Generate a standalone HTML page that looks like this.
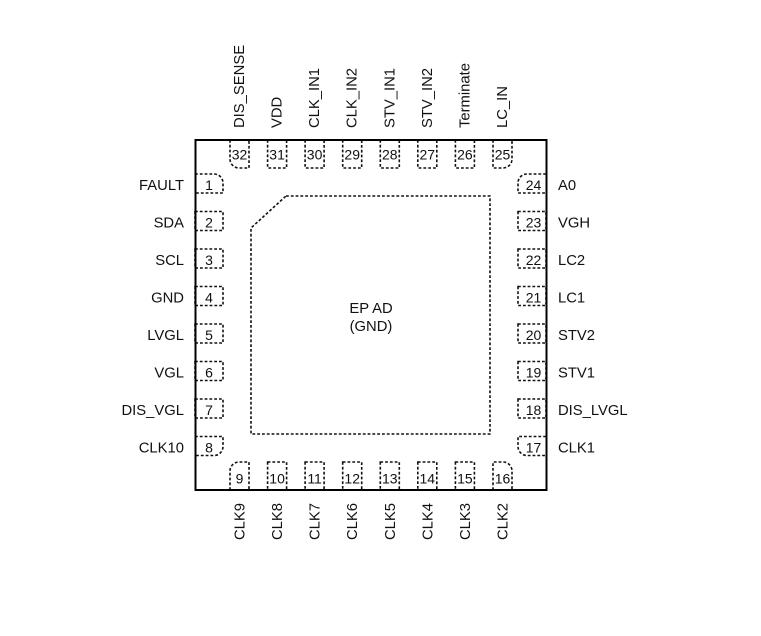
<!DOCTYPE html>
<html><head><meta charset="utf-8"><style>
html,body{margin:0;padding:0;background:#fff;}
svg{display:block;}
text{font-family:"Liberation Sans",Arial,sans-serif;fill:#111;}
.lbl{font-size:14.8px;}
.num{font-size:14px;}
.d{fill:none;stroke:#111;stroke-width:1.6;stroke-dasharray:2.8,2;}
</style></head><body>
<svg width="761" height="636" viewBox="0 0 761 636" xmlns="http://www.w3.org/2000/svg">
<!-- EPAD -->
<path class="d" d="M286,196 L490,196 L490,434 L251,434 L251,228 Z"/>
<text class="lbl" x="371" y="313" text-anchor="middle">EP AD</text>
<text class="lbl" x="371" y="331" text-anchor="middle">(GND)</text>

<!-- Top pins 32..25 -->
<path class="d" d="M230,140 L230,159 A9,9 0 0 0 239,168 L249,168 L249,140"/>
<rect class="d" x="267.6" y="140" width="19" height="28"/>
<rect class="d" x="305.1" y="140" width="19" height="28"/>
<rect class="d" x="342.7" y="140" width="19" height="28"/>
<rect class="d" x="380.3" y="140" width="19" height="28"/>
<rect class="d" x="417.8" y="140" width="19" height="28"/>
<rect class="d" x="455.4" y="140" width="19" height="28"/>
<path class="d" d="M493,140 L493,168 L503,168 A9,9 0 0 0 512,159 L512,140"/>
<g class="num" text-anchor="middle">
<text x="239.5" y="159.5">32</text><text x="277.1" y="159.5">31</text><text x="314.6" y="159.5">30</text><text x="352.2" y="159.5">29</text>
<text x="389.8" y="159.5">28</text><text x="427.3" y="159.5">27</text><text x="464.9" y="159.5">26</text><text x="502.5" y="159.5">25</text>
</g>

<!-- Bottom pins 9..16 -->
<path class="d" d="M230,490 L230,471 A9,9 0 0 1 239,462 L249,462 L249,490"/>
<rect class="d" x="267.6" y="462" width="19" height="28"/>
<rect class="d" x="305.1" y="462" width="19" height="28"/>
<rect class="d" x="342.7" y="462" width="19" height="28"/>
<rect class="d" x="380.3" y="462" width="19" height="28"/>
<rect class="d" x="417.8" y="462" width="19" height="28"/>
<rect class="d" x="455.4" y="462" width="19" height="28"/>
<path class="d" d="M493,490 L493,462 L503,462 A9,9 0 0 1 512,471 L512,490"/>
<g class="num" text-anchor="middle">
<text x="239.5" y="483.5">9</text><text x="277.1" y="483.5">10</text><text x="314.6" y="483.5">11</text><text x="352.2" y="483.5">12</text>
<text x="389.8" y="483.5">13</text><text x="427.3" y="483.5">14</text><text x="464.9" y="483.5">15</text><text x="502.5" y="483.5">16</text>
</g>

<!-- Left pins 1..8 -->
<path class="d" d="M195,174 L214,174 A9,9 0 0 1 223,183 L223,193 L195,193"/>
<rect class="d" x="195" y="211.5" width="28" height="19"/>
<rect class="d" x="195" y="249" width="28" height="19"/>
<rect class="d" x="195" y="286.5" width="28" height="19"/>
<rect class="d" x="195" y="324" width="28" height="19"/>
<rect class="d" x="195" y="361.5" width="28" height="19"/>
<rect class="d" x="195" y="399" width="28" height="19"/>
<path class="d" d="M195,436.5 L223,436.5 L223,446.5 A9,9 0 0 1 214,455.5 L195,455.5"/>
<g class="num" text-anchor="middle">
<text x="209" y="190">1</text><text x="209" y="227.5">2</text><text x="209" y="265">3</text><text x="209" y="302.5">4</text>
<text x="209" y="340">5</text><text x="209" y="377.5">6</text><text x="209" y="415">7</text><text x="209" y="452.5">8</text>
</g>
<g class="lbl" text-anchor="end">
<text x="184" y="190">FAULT</text><text x="184" y="227.5">SDA</text><text x="184" y="265">SCL</text><text x="184" y="302.5">GND</text>
<text x="184" y="340">LVGL</text><text x="184" y="377.5">VGL</text><text x="184" y="415">DIS_VGL</text><text x="184" y="452.5">CLK10</text>
</g>

<!-- Right pins 24..17 -->
<path class="d" d="M546,174 L527,174 A9,9 0 0 0 518,183 L518,193 L546,193"/>
<rect class="d" x="518" y="211.5" width="28" height="19"/>
<rect class="d" x="518" y="249" width="28" height="19"/>
<rect class="d" x="518" y="286.5" width="28" height="19"/>
<rect class="d" x="518" y="324" width="28" height="19"/>
<rect class="d" x="518" y="361.5" width="28" height="19"/>
<rect class="d" x="518" y="399" width="28" height="19"/>
<path class="d" d="M546,436.5 L518,436.5 L518,446.5 A9,9 0 0 0 527,455.5 L546,455.5"/>
<g class="num" text-anchor="middle">
<text x="533.5" y="190">24</text><text x="533.5" y="227.5">23</text><text x="533.5" y="265">22</text><text x="533.5" y="302.5">21</text>
<text x="533.5" y="340">20</text><text x="533.5" y="377.5">19</text><text x="533.5" y="415">18</text><text x="533.5" y="452.5">17</text>
</g>
<g class="lbl">
<text x="558" y="190">A0</text><text x="558" y="227.5">VGH</text><text x="558" y="265">LC2</text><text x="558" y="302.5">LC1</text>
<text x="558" y="340">STV2</text><text x="558" y="377.5">STV1</text><text x="558" y="415">DIS_LVGL</text><text x="558" y="452.5">CLK1</text>
</g>

<!-- Top labels -->
<g class="lbl">
<text transform="translate(244,128) rotate(-90)">DIS_SENSE</text>
<text transform="translate(281.6,128) rotate(-90)">VDD</text>
<text transform="translate(319.1,128) rotate(-90)">CLK_IN1</text>
<text transform="translate(356.7,128) rotate(-90)">CLK_IN2</text>
<text transform="translate(394.3,128) rotate(-90)">STV_IN1</text>
<text transform="translate(431.8,128) rotate(-90)">STV_IN2</text>
<text transform="translate(469.4,128) rotate(-90)">Terminate</text>
<text transform="translate(507,128) rotate(-90)">LC_IN</text>
</g>
<!-- Bottom labels -->
<g class="lbl" text-anchor="end">
<text transform="translate(244.5,503) rotate(-90)">CLK9</text>
<text transform="translate(282.1,503) rotate(-90)">CLK8</text>
<text transform="translate(319.6,503) rotate(-90)">CLK7</text>
<text transform="translate(357.2,503) rotate(-90)">CLK6</text>
<text transform="translate(394.8,503) rotate(-90)">CLK5</text>
<text transform="translate(432.3,503) rotate(-90)">CLK4</text>
<text transform="translate(469.9,503) rotate(-90)">CLK3</text>
<text transform="translate(507.5,503) rotate(-90)">CLK2</text>
</g>

<!-- Chip body -->
<rect x="195.5" y="140" width="351" height="350" fill="none" stroke="#000" stroke-width="2"/>
</svg>
</body></html>
